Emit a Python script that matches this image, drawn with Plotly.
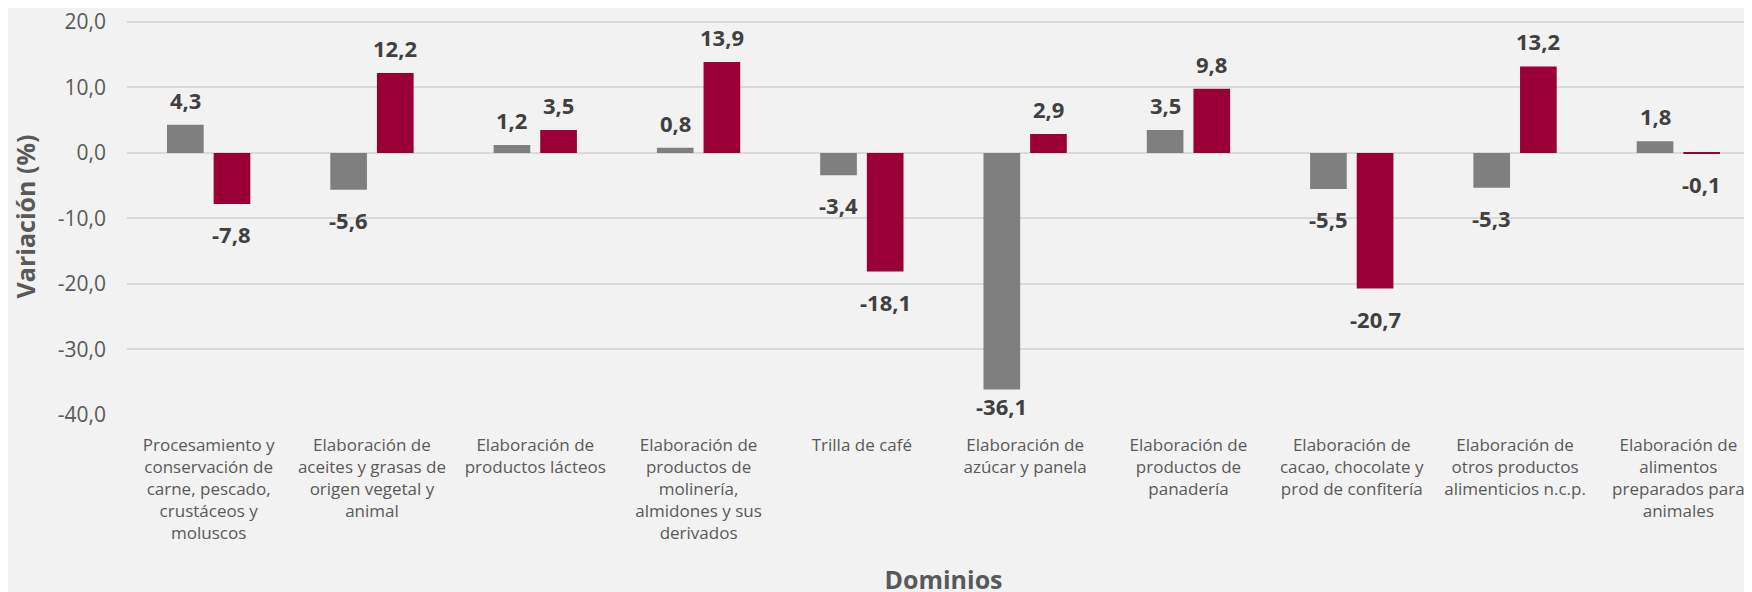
import plotly.graph_objects as go

# Dominios (categorías del eje x)
dominios = [
    "Procesamiento y<br>conservación de<br>carne, pescado,<br>crustáceos y<br>moluscos",
    "Elaboración de<br>aceites y grasas de<br>origen vegetal y<br>animal",
    "Elaboración de<br>productos lácteos",
    "Elaboración de<br>productos de<br>molinería,<br>almidones y sus<br>derivados",
    "Trilla de café",
    "Elaboración de<br>azúcar y panela",
    "Elaboración de<br>productos de<br>panadería",
    "Elaboración de<br>cacao, chocolate y<br>prod de confitería",
    "Elaboración de<br>otros productos<br>alimenticios n.c.p.",
    "Elaboración de<br>alimentos<br>preparados para<br>animales",
]

# variaciones (%) por serie
serie_gris = [4.3, -5.6, 1.2, 0.8, -3.4, -36.1, 3.5, -5.5, -5.3, 1.8]
serie_roja = [-7.8, 12.2, 3.5, 13.9, -18.1, 2.9, 9.8, -20.7, 13.2, -0.1]

# eje y
y_ticks = [20, 10, 0, -10, -20, -30, -40]
y_min, y_max = -40, 20.6


def fmt(v):
    return f"{v:.1f}".replace(".", ",")


GRIS = "#7f7f7f"
ROJO = "#9a0036"
BG = "#f2f2f2"
TXT = "#595959"
FONT = "Open Sans"
GRID = "#d9d9d9"

H, T, B = 592, 10, 185
px_por_unidad = (H - T - B) / (y_max - y_min)

fig = go.Figure()
fig.add_trace(go.Bar(x=dominios, y=serie_gris, name="serie_gris",
                     marker=dict(color=GRIS, line=dict(width=0))))
fig.add_trace(go.Bar(x=dominios, y=serie_roja, name="serie_roja",
                     marker=dict(color=ROJO, line=dict(width=0))))

# etiquetas de datos (negrita, fuera del extremo de la barra, dentro del área)
for serie, dx in ((serie_gris, -23.3), (serie_roja, 23.3)):
    for cat, v in zip(dominios, serie):
        if v >= 0:
            dy = 25
        else:
            dy = max(-30, -((v - y_min) * px_por_unidad - 9))
        fig.add_annotation(
            x=cat, y=v, xref="x", yref="y",
            text="<b>" + fmt(v) + "</b>",
            showarrow=False, xshift=dx, yshift=dy,
            font=dict(family=FONT, size=22, color="#404040"),
        )

# línea de la rejilla superior (plotly la omite en el borde)
fig.add_shape(type="line", xref="paper", x0=0, x1=1, yref="y",
              y0=y_ticks[0], y1=y_ticks[0], line=dict(color=GRID, width=2),
              layer="below")

fig.update_layout(
    width=1752, height=H,
    margin=dict(l=119, r=0, t=T, b=B),
    paper_bgcolor=BG, plot_bgcolor=BG,
    barmode="group", bargap=0.4286, bargroupgap=0.214,
    showlegend=False,
    font=dict(family=FONT, color=TXT),
)
fig.update_xaxes(
    range=[-0.5, 9.5],
    showgrid=False, showline=False, zeroline=False,
    tickfont=dict(family=FONT, size=17, color=TXT),
    ticklabelstandoff=18,
    title=dict(text="<b>Dominios</b>", font=dict(family=FONT, size=25, color=TXT), standoff=28),
)
fig.update_yaxes(
    range=[y_min, y_max],
    tickvals=y_ticks, ticktext=[fmt(v) for v in y_ticks],
    showgrid=True, gridcolor=GRID, gridwidth=2,
    zeroline=True, zerolinecolor=GRID, zerolinewidth=2,
    showline=False,
    tickfont=dict(family=FONT, size=21, color=TXT),
    ticklabelstandoff=20, ticklabeloverflow="allow",
    title=dict(text="<b>Variación (%)</b>", font=dict(family=FONT, size=25, color=TXT), standoff=19),
)

fig.write_html("out.html")
